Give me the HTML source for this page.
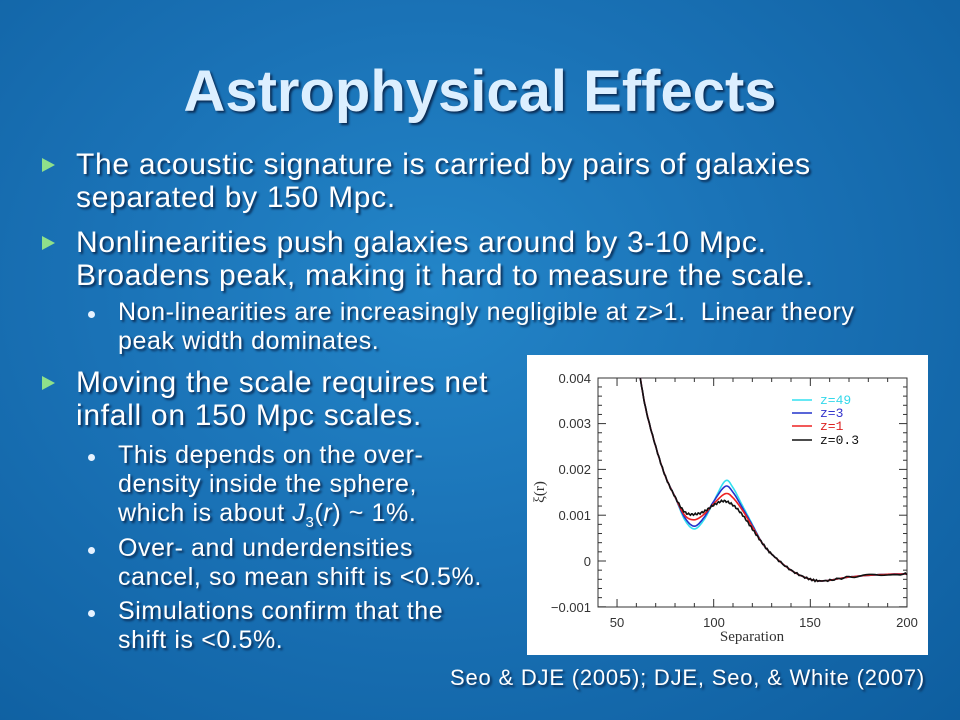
<!DOCTYPE html>
<html><head><meta charset="utf-8"><style>
body{margin:0;}
#s{position:relative;width:960px;height:720px;overflow:hidden;font-family:"Liberation Sans",sans-serif;
background:radial-gradient(ellipse at 45% 40%,#2385c8 0%,#1a72b6 45%,#0e5e9f 100%);}
.t{position:absolute;white-space:nowrap;color:#fff;text-shadow:2px 2px 2px #0a2c55;}
.h{font-size:58px;font-weight:bold;color:#dcefff;left:0;width:960px;text-align:center;top:58px;}
.b{font-size:30px;line-height:33px;left:76px;letter-spacing:0.7px;}
.s{font-size:25px;line-height:29px;letter-spacing:0.6px;left:118px;}
.ar{position:absolute;width:0;height:0;border-top:7px solid transparent;border-bottom:7px solid transparent;border-left:13px solid #8fe08a;}
.dt{position:absolute;width:7px;height:7px;border-radius:50%;background:#e6f2ff;}
</style></head><body><div id="s">
<div class="t h">Astrophysical Effects</div>
<div class="ar" style="left:42px;top:158px"></div>
<div class="t b" style="top:148px">The acoustic signature is carried by pairs of galaxies<br>separated by 150 Mpc.</div>
<div class="ar" style="left:42px;top:236px"></div>
<div class="t b" style="top:226px">Nonlinearities push galaxies around by 3-10 Mpc.<br>Broadens peak, making it hard to measure the scale.</div>
<div class="dt" style="left:88px;top:311px"></div>
<div class="t s" style="top:298px">Non-linearities are increasingly negligible at z&gt;1.&nbsp; Linear theory<br>peak width dominates.</div>
<div class="ar" style="left:42px;top:376px"></div>
<div class="t b" style="top:366px">Moving the scale requires net<br>infall on 150 Mpc scales.</div>
<div class="dt" style="left:88px;top:454px"></div>
<div class="t s" style="top:441px">This depends on the over-<br>density inside the sphere,<br>which is about <i>J</i><sub style="font-size:15px">3</sub>(<i>r</i>) ~ 1%.</div>
<div class="dt" style="left:88px;top:547px"></div>
<div class="t s" style="top:534px">Over- and underdensities<br>cancel, so mean shift is &lt;0.5%.</div>
<div class="dt" style="left:88px;top:610px"></div>
<div class="t s" style="top:597px">Simulations confirm that the<br>shift is &lt;0.5%.</div>
<div class="t" style="left:450px;top:665px;font-size:22px;letter-spacing:0.8px">Seo &amp; DJE (2005); DJE, Seo, &amp; White (2007)</div>
<svg style="position:absolute;left:0;top:0" width="960" height="720">
<rect x="527" y="355" width="401" height="300" fill="#fff"/>
<g id="ax" stroke="#333" stroke-width="1" fill="none"><rect x="598" y="378" width="309" height="229"/></g>
<g id="curves" fill="none" stroke-width="1.6"></g>
<g font-family="Liberation Sans,sans-serif" font-size="13" fill="#333" text-anchor="end">
<text x="591" y="383">0.004</text><text x="591" y="428">0.003</text><text x="591" y="474">0.002</text>
<text x="591" y="520">0.001</text><text x="591" y="566">0</text><text x="591" y="612">−0.001</text></g>
<g font-family="Liberation Sans,sans-serif" font-size="13" fill="#333" text-anchor="middle">
<text x="617" y="627">50</text><text x="714" y="627">100</text><text x="810" y="627">150</text><text x="907" y="627">200</text></g>
<g font-family="Liberation Serif,serif" font-size="15" fill="#333" text-anchor="middle">
<text x="752" y="641">Separation</text>
<text transform="translate(544,492) rotate(-90)">ξ(r)</text></g>
<g font-family="Liberation Mono,monospace" font-size="13">
<line x1="792" y1="400" x2="812" y2="400" stroke="#33e0f0" stroke-width="1.6"/><text x="820" y="404" fill="#33d8ea">z=49</text>
<line x1="792" y1="413" x2="812" y2="413" stroke="#2233cc" stroke-width="1.6"/><text x="820" y="417" fill="#3333cc">z=3</text>
<line x1="792" y1="426" x2="812" y2="426" stroke="#ee2222" stroke-width="1.6"/><text x="820" y="430" fill="#dd2222">z=1</text>
<line x1="792" y1="440" x2="812" y2="440" stroke="#111" stroke-width="1.6"/><text x="820" y="444" fill="#111">z=0.3</text>
</g>
</svg>
<script>
var X=x=>597.7+(x-40)*1.933, Y=y=>561-y*45.8;
var ax=document.getElementById('ax'),h='';
for(var x=50;x<=200;x+=10){var l=x%50==0?8:4;h+='<line x1="'+X(x)+'" y1="607" x2="'+X(x)+'" y2="'+(607-l)+'"/><line x1="'+X(x)+'" y1="378" x2="'+X(x)+'" y2="'+(378+l)+'"/>';}
for(var y=-1;y<=4;y+=0.2){var l=Math.abs(y-Math.round(y))<0.01?8:4;h+='<line x1="598" y1="'+Y(y)+'" x2="'+(598+l)+'" y2="'+Y(y)+'"/><line x1="907" y1="'+Y(y)+'" x2="'+(907-l)+'" y2="'+Y(y)+'"/>';}
ax.innerHTML+=h;
var base=[[62,4.0],[65,3.3],[70,2.5],[75,1.85],[80,1.4]];
var tail=[[125,0.4],[130,0.15],[140,-0.2],[150,-0.4],[158,-0.43],[170,-0.35],[185,-0.3],[200,-0.28]];
var S={
'#33e0f0':[[85,0.9],[90,0.7],[95,0.9],[100,1.3],[106,1.75],[110,1.6],[115,1.2],[120,0.8]],
'#2233cc':[[85,0.95],[90,0.76],[95,0.95],[100,1.3],[106,1.63],[110,1.5],[115,1.15],[120,0.78]],
'#ee2222':[[85,1.0],[90,0.9],[95,1.02],[100,1.25],[106,1.47],[110,1.38],[115,1.1],[120,0.75]],
'#111':[[85,1.07],[90,1.02],[95,1.08],[100,1.22],[105,1.31],[110,1.22],[115,1.0],[120,0.7]]};
var g=document.getElementById('curves'),o='';
for(var c in S){var p=base.concat(S[c],tail);var d='';
for(var i=0;i<p.length-1;i++){var p0=p[Math.max(0,i-1)],p1=p[i],p2=p[i+1],p3=p[Math.min(p.length-1,i+2)];
for(var t=0;t<1;t+=0.1){var t2=t*t,t3=t2*t;
var f=(a,b,c2,e)=>0.5*(2*b+(-a+c2)*t+(2*a-5*b+4*c2-e)*t2+(-a+3*b-3*c2+e)*t3);
var xx=f(p0[0],p1[0],p2[0],p3[0]),yy=f(p0[1],p1[1],p2[1],p3[1]);
if(c=='#111')yy+=Math.sin(xx*3.7)*0.02;
d+=(d?'L':'M')+X(xx).toFixed(1)+','+Y(yy).toFixed(1);}}
o+='<path d="'+d+'" stroke="'+c+'"/>';}
g.innerHTML=o;
</script>
</div></body></html>
